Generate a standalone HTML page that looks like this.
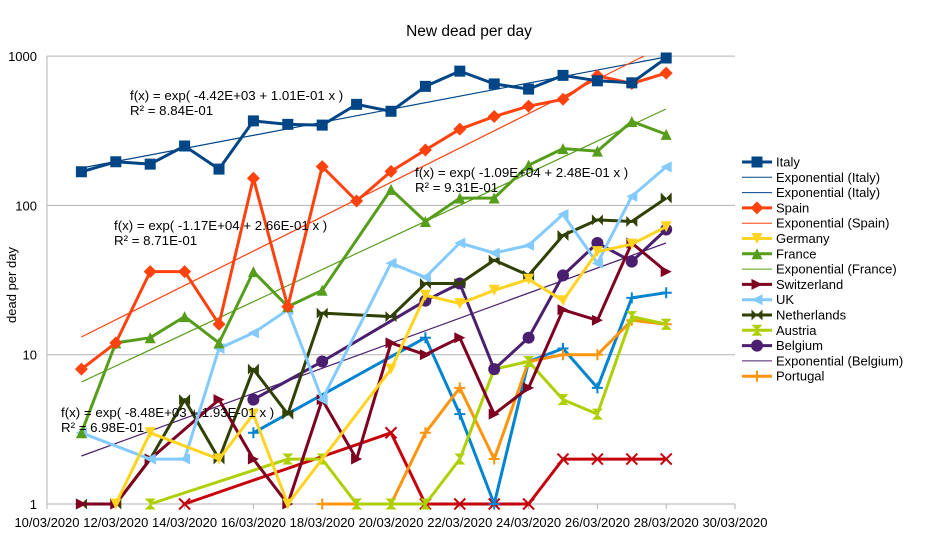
<!DOCTYPE html>
<html><head><meta charset="utf-8"><style>
html,body{margin:0;padding:0;background:#fff;}
svg{display:block;font-family:"Liberation Sans",sans-serif;}
</style></head><body>
<svg id="s" width="939" height="539" viewBox="0 0 939 539" xmlns="http://www.w3.org/2000/svg">
<defs><clipPath id="c"><rect x="47" y="56" width="688" height="449"/></clipPath></defs>
<rect width="939" height="539" fill="#fff"/>
<text x="469" y="36" text-anchor="middle" font-size="15.5">New dead per day</text>
<text transform="translate(16,285) rotate(-90)" text-anchor="middle" font-size="13">dead per day</text>
<g id="g"></g>
</svg>
<script>
const g=document.getElementById('g');let h='';
const X=i=>81.4+i*34.4;
const Y=v=>504-Math.log10(v)*149.3;
[1,10,100,1000].forEach(v=>{h+=`<line x1="47" x2="735" y1="${Y(v)}" y2="${Y(v)}" stroke="#b3b3b3"/>`;
h+=`<text x="37" y="${Y(v)+5}" text-anchor="end" font-size="13">${v}</text>`;});
h+=`<line x1="47" x2="47" y1="56" y2="509" stroke="#b3b3b3"/>`;
for(let k=0;k<=10;k++){const x=47+k*68.8;const d=10+2*k;
h+=`<line x1="${x}" x2="${x}" y1="504" y2="509" stroke="#b3b3b3"/>`;
h+=`<text x="${x}" y="527" text-anchor="middle" font-size="13">${d}/03/2020</text>`;}
const tl=(y1,y2,c)=>h+=`<line clip-path="url(#c)" x1="81.4" y1="${y1}" x2="666" y2="${y2}" stroke="${c}" stroke-width="1.2"/>`;
tl(168,57,'#004586');tl(337,45,'#ff420e');tl(382,109,'#579d1c');tl(456,243,'#4b1f6f');
const N=null;
const S=[
['#c5000b','x',[N,N,N,1,N,N,N,N,N,3,1,1,1,1,2,2,2,2]],
['#0084d1','plus',[N,N,N,N,N,3,N,N,N,N,13,4,1,9,11,6,24,26]],
['#ff950e','plus',[N,N,N,N,N,N,N,1,1,1,3,6,2,9,10,10,17,16]],
['#aecf00','hg',[N,N,1,N,N,N,2,2,1,1,1,2,8,9,5,4,18,16]],
['#4b1f6f','circ',[N,N,N,N,N,5,N,9,N,N,23,30,8,13,34,56,42,69]],
['#314004','bow',[1,1,2,5,2,8,4,19,N,18,30,30,43,34,63,80,78,112]],
['#7e0021','tr',[1,1,2,N,5,2,1,5,2,12,10,13,4,6,20,17,56,36]],
['#83caff','tl',[3,N,2,2,11,14,20,5,N,41,33,56,48,54,87,41,115,181]],
['#ffd320','td',[N,1,3,N,2,4,1,N,N,8,25,22,27,32,23,49,55,72]],
['#579d1c','tu',[3,12,13,18,12,36,21,27,N,128,78,112,112,186,240,231,365,299]],
['#ff420e','dia',[8,12,36,36,16,152,21,182,107,169,235,324,394,462,514,738,655,769]],
['#004586','sq',[168,196,189,250,175,368,349,345,475,427,627,793,651,601,743,683,662,971]]];
function mk(t,x,y,c){const r=5.5;
switch(t){
case 'sq':return `<rect x="${x-r}" y="${y-r}" width="${2*r}" height="${2*r}" fill="${c}"/>`;
case 'dia':return `<polygon points="${x},${y-r-1} ${x+r+1},${y} ${x},${y+r+1} ${x-r-1},${y}" fill="${c}"/>`;
case 'tu':return `<polygon points="${x},${y-r} ${x+r},${y+r} ${x-r},${y+r}" fill="${c}"/>`;
case 'td':return `<polygon points="${x-r},${y-r} ${x+r},${y-r} ${x},${y+r}" fill="${c}"/>`;
case 'tr':return `<polygon points="${x-r},${y-r} ${x+r},${y} ${x-r},${y+r}" fill="${c}"/>`;
case 'tl':return `<polygon points="${x+r},${y-r} ${x-r},${y} ${x+r},${y+r}" fill="${c}"/>`;
case 'bow':return `<polygon points="${x-r},${y-r} ${x+r},${y+r} ${x+r},${y-r} ${x-r},${y+r}" fill="${c}"/>`;
case 'hg':return `<polygon points="${x-r},${y-r} ${x+r},${y-r} ${x-r},${y+r} ${x+r},${y+r}" fill="${c}"/>`;
case 'circ':return `<circle cx="${x}" cy="${y}" r="${r+0.5}" fill="${c}"/>`;
case 'plus':return `<path d="M${x-r} ${y}H${x+r}M${x} ${y-r}V${y+r}" stroke="${c}" stroke-width="2"/>`;
case 'x':return `<path d="M${x-r} ${y-r}L${x+r} ${y+r}M${x+r} ${y-r}L${x-r} ${y+r}" stroke="${c}" stroke-width="2"/>`;}}
S.forEach(([c,t,d])=>{let p=[];d.forEach((v,i)=>{if(v!=null)p.push(X(i).toFixed(1)+','+Y(v).toFixed(1));});
h+=`<polyline points="${p.join(' ')}" fill="none" stroke="${c}" stroke-width="3" stroke-linejoin="round"/>`;
d.forEach((v,i)=>{if(v!=null)h+=mk(t,X(i),Y(v),c);});});
function E(x,y,a,b){h+=`<text x="${x}" y="${y}" font-size="13.3">f(x) = exp( ${a} x )</text><text x="${x}" y="${y+15}" font-size="13.3">R² = ${b}</text>`;}
E(130,100,'-4.42E+03 + 1.01E-01','8.84E-01');
E(114,230,'-1.17E+04 + 2.66E-01','8.71E-01');
E(415,177,'-1.09E+04 + 2.48E-01','9.31E-01');
E(61,417,'-8.48E+03 + 1.93E-01','6.98E-01');
const L=[['Italy','#004586','sq',3],['Exponential (Italy)','#004586',null,1],['Exponential (Italy)','#004586',null,1],
['Spain','#ff420e','dia',3],['Exponential (Spain)','#ff420e',null,1],['Germany','#ffd320','td',3],['France','#579d1c','tu',3],
['Exponential (France)','#579d1c',null,1],['Switzerland','#7e0021','tr',3],['UK','#83caff','tl',3],['Netherlands','#314004','bow',3],
['Austria','#aecf00','hg',3],['Belgium','#4b1f6f','circ',3],['Exponential (Belgium)','#4b1f6f',null,1],['Portugal','#ff950e','plus',3]];
L.forEach(([n,c,t,w],k)=>{const y=162+k*15.3;
h+=`<line x1="742" x2="772" y1="${y}" y2="${y}" stroke="${c}" stroke-width="${w}"/>`;
if(t)h+=mk(t,757,y,c);
h+=`<text x="776" y="${y+4.5}" font-size="13">${n}</text>`;});
g.innerHTML=h;
</script>
</body></html>
